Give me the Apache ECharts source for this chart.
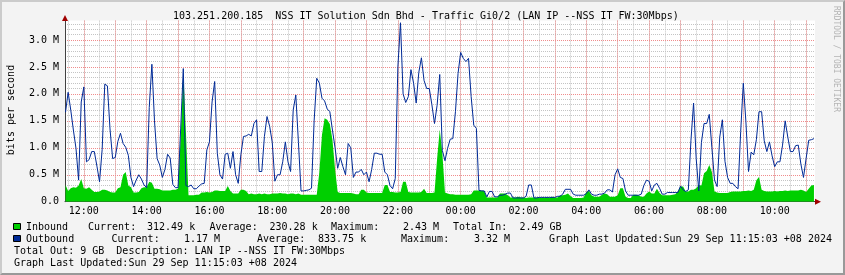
<!DOCTYPE html>
<html><head><meta charset="utf-8">
<script src="https://cdn.jsdelivr.net/npm/echarts@6/dist/echarts.min.js"></script>
<style>
html,body{margin:0;padding:0;background:#f3f3f3;}
#frame{position:absolute;left:0;top:0;width:845px;height:275px;box-sizing:border-box;background:#f3f3f3;border-top:2px solid #cbcbcb;border-left:2px solid #cbcbcb;border-right:2px solid #999;border-bottom:2px solid #999;}
#chart{position:absolute;left:0;top:0;width:845px;height:275px;}
</style></head><body>
<div id="frame"></div><div id="chart"></div>
<script>
// ---- data ----
const title = '103.251.200.185  NSS IT Solution Sdn Bhd - Traffic Gi0/2 (LAN IP --NSS IT FW:30Mbps)';
const startMinute = -35;   // first sample 11:25 (minutes relative to 12:00)
const stepMinutes = 5;     // 5-minute samples
// Inbound (Mbit/s)
const inbound = [
0.31,0.20,0.25,0.27,0.26,0.30,0.42,0.25,0.24,0.27,
0.22,0.18,0.18,0.19,0.22,0.22,0.21,0.18,0.17,0.17,
0.25,0.27,0.50,0.55,0.30,0.27,0.17,0.17,0.18,0.25,
0.27,0.27,0.37,0.35,0.24,0.24,0.23,0.21,0.21,0.21,
0.21,0.22,0.22,0.24,1.20,2.43,1.30,0.12,0.12,0.12,
0.13,0.13,0.17,0.17,0.18,0.17,0.18,0.21,0.21,0.20,
0.20,0.20,0.29,0.20,0.15,0.15,0.15,0.22,0.22,0.20,
0.14,0.15,0.14,0.14,0.15,0.14,0.15,0.14,0.14,0.15,
0.15,0.15,0.16,0.15,0.15,0.14,0.15,0.15,0.14,0.15,
0.13,0.13,0.13,0.13,0.13,0.13,0.13,0.55,1.24,1.55,
1.52,1.44,1.15,0.60,0.18,0.16,0.16,0.16,0.16,0.16,
0.15,0.14,0.14,0.22,0.22,0.17,0.16,0.16,0.16,0.16,
0.16,0.16,0.31,0.31,0.18,0.18,0.17,0.17,0.18,0.37,
0.37,0.18,0.17,0.17,0.17,0.17,0.18,0.24,0.16,0.16,
0.16,0.17,0.80,1.34,0.90,0.17,0.15,0.14,0.14,0.13,
0.13,0.13,0.13,0.13,0.13,0.14,0.21,0.21,0.21,0.21,
0.20,0.08,0.08,0.08,0.08,0.08,0.15,0.15,0.15,0.12,
0.08,0.08,0.08,0.09,0.08,0.08,0.07,0.08,0.08,0.08,
0.08,0.08,0.08,0.08,0.08,0.08,0.09,0.08,0.08,0.12,
0.12,0.13,0.15,0.10,0.07,0.07,0.07,0.07,0.08,0.18,
0.20,0.12,0.09,0.09,0.09,0.13,0.15,0.14,0.09,0.09,
0.09,0.12,0.25,0.25,0.09,0.07,0.07,0.13,0.13,0.12,
0.09,0.09,0.15,0.19,0.15,0.15,0.24,0.16,0.12,0.12,
0.12,0.12,0.13,0.14,0.19,0.28,0.28,0.19,0.19,0.22,
0.22,0.25,0.31,0.30,0.53,0.57,0.68,0.55,0.19,0.17,
0.16,0.16,0.16,0.16,0.18,0.19,0.19,0.19,0.19,0.20,
0.20,0.21,0.20,0.22,0.40,0.46,0.22,0.20,0.19,0.19,
0.19,0.20,0.19,0.20,0.20,0.21,0.20,0.21,0.21,0.21,
0.21,0.22,0.21,0.18,0.24,0.30,0.31
];
// Outbound (Mbit/s)
const outbound = [
1.66,2.03,1.70,1.33,0.99,0.40,1.85,2.13,0.74,0.78,
0.93,0.93,0.66,0.37,0.97,2.18,2.15,1.35,0.80,0.82,
1.12,1.27,1.08,1.01,0.86,0.45,0.28,0.40,0.50,0.42,
0.31,0.26,1.75,2.55,1.50,0.80,0.68,0.45,0.60,0.88,
0.81,0.32,0.26,0.26,1.35,2.47,0.30,0.28,0.31,0.24,
0.24,0.29,0.33,0.34,0.96,1.11,1.85,2.23,0.90,0.50,
0.42,0.88,0.90,0.62,0.93,0.50,0.34,0.87,1.21,1.22,
1.25,1.22,1.45,1.52,0.56,0.56,1.21,1.58,1.40,1.10,
0.38,0.50,0.50,0.74,1.11,0.74,0.56,1.70,1.98,1.10,
0.20,0.20,0.21,0.22,0.25,1.50,2.29,2.20,1.92,1.87,
1.72,1.67,1.33,1.00,0.62,0.82,0.65,0.50,1.08,1.00,
0.45,0.55,0.55,0.60,0.50,0.55,0.37,0.60,0.90,0.90,
0.88,0.88,0.55,0.50,0.30,0.24,0.43,2.50,3.32,2.00,
1.84,1.95,2.45,2.20,1.83,2.40,2.67,2.25,2.10,2.10,
1.80,1.45,1.79,2.36,0.95,0.76,0.99,1.16,1.17,1.67,
2.38,2.77,2.66,2.60,2.66,1.95,1.42,1.36,0.21,0.20,
0.20,0.09,0.19,0.19,0.09,0.09,0.12,0.12,0.14,0.16,
0.16,0.07,0.07,0.07,0.07,0.07,0.10,0.31,0.31,0.07,
0.07,0.08,0.08,0.08,0.08,0.08,0.08,0.08,0.10,0.10,
0.14,0.23,0.23,0.23,0.14,0.12,0.12,0.12,0.12,0.15,
0.22,0.14,0.12,0.12,0.14,0.14,0.16,0.22,0.22,0.18,
0.50,0.61,0.45,0.43,0.20,0.12,0.12,0.12,0.12,0.12,
0.14,0.30,0.40,0.38,0.20,0.31,0.34,0.25,0.14,0.14,
0.17,0.17,0.17,0.17,0.17,0.29,0.22,0.19,0.22,1.14,
1.83,0.80,0.20,1.10,1.45,1.45,1.62,1.00,0.40,0.28,
1.20,1.52,0.75,0.45,0.34,0.34,0.28,0.24,1.30,2.20,
1.48,0.56,0.92,0.87,1.15,1.67,1.67,1.13,0.93,1.11,
0.85,0.65,0.74,0.74,1.05,1.50,1.20,0.93,0.93,1.04,
1.05,0.70,0.45,0.80,1.14,1.15,1.17
];
const legendInbound  = ['Inbound', 'Current:', '312.49 k', 'Average:', '230.28 k', 'Maximum:', '2.43 M', 'Total In:', '2.49 GB'];
const legendOutbound = ['Outbound', 'Current:', '1.17 M', 'Average:', '833.75 k', 'Maximum:', '3.32 M', 'Graph Last Updated:Sun 29 Sep 11:15:03 +08 2024'];
const footerLines = ['Total Out: 9 GB  Description: LAN IP --NSS IT FW:30Mbps', 'Graph Last Updated:Sun 29 Sep 11:15:03 +08 2024'];

// ---- build ----
const times = inbound.map((_, i) => startMinute + i * stepMinutes);
const inData = times.map((t, i) => [t, inbound[i]]);
const outData = times.map((t, i) => [t, outbound[i]]);

const FAM = '"DejaVu Sans Mono", monospace';
const FONT = '10px ' + FAM;
const GRAY = '#c4c4c4', RED = '#f08c8c';
const X_MIN = -36, X_MAX = 1397, GRID_X_MIN = -60, Y_MAX = 3.36;

function txt(s, x, y, extra) {
  return Object.assign({type: 'text', x: x, y: y, silent: true, z: 100,
    style: {text: s, font: FONT, fill: '#000', align: 'left', verticalAlign: 'middle'}}, extra || {});
}
const l1x = [26, 88, 147, 209.5, 269.5, 331, 403, 453, 519.5];
const l2x = [26, 111.5, 184, 257, 318, 401, 474, 549];
const graphics = [];
graphics.push(txt(title, 173, 16));
graphics.push({type: 'text', x: 11, y: 110, rotation: Math.PI / 2, silent: true, z: 100,
  style: {text: 'bits per second', font: FONT, fill: '#000', align: 'center', verticalAlign: 'middle'}});
graphics.push({type: 'text', x: 836.5, y: 59, rotation: -Math.PI / 2, silent: true, z: 100,
  style: {text: 'RRDTOOL / TOBI OETIKER', font: '8px ' + FAM, fill: '#b4b4b4', align: 'center', verticalAlign: 'middle'}});
legendInbound.forEach((s, k) => graphics.push(txt(s, l1x[k], 227)));
legendOutbound.forEach((s, k) => graphics.push(txt(s, l2x[k], 239)));
graphics.push(txt(footerLines[0], 14, 251));
graphics.push(txt(footerLines[1], 14, 263));
graphics.push({type: 'rect', silent: true, z: 100, shape: {x: 13.5, y: 223.5, width: 7, height: 6},
  style: {fill: '#00CF00', stroke: '#000', lineWidth: 1}});
graphics.push({type: 'rect', silent: true, z: 100, shape: {x: 13.5, y: 235.5, width: 7, height: 6},
  style: {fill: '#002A97', stroke: '#000', lineWidth: 1}});
graphics.push({type: 'polygon', silent: true, z: 100, shape: {points: [[62, 21], [68, 21], [65, 15]]}, style: {fill: '#a00000'}});
graphics.push({type: 'polygon', silent: true, z: 100, shape: {points: [[815, 198.7], [815, 204.7], [821, 201.7]]}, style: {fill: '#a00000'}});

function hourLabel(v) {
  if (v % 120 !== 0) return '';
  const h = ((720 + v) / 60) % 24;
  return (h < 10 ? '0' : '') + h + ':00';
}
const gridBase = {right: 30, top: 20.6, bottom: 73.3, outerBoundsMode: 'none', containLabel: false};
const option = {
  backgroundColor: 'transparent',
  animation: false,
  grid: [
    Object.assign({left: 65, show: true, backgroundColor: '#ffffff', borderWidth: 0}, gridBase),
    Object.assign({left: 65 - (X_MIN - GRID_X_MIN) * 750 / (X_MAX - X_MIN), show: false}, gridBase)
  ],
  xAxis: [
    {gridIndex: 0, type: 'value', min: X_MIN, max: X_MAX, position: 'bottom', z: 1.5,
      axisLine: {show: true, lineStyle: {color: '#404040', width: 1}}, axisTick: {show: false},
      axisLabel: {show: false}, splitLine: {show: false}},
    {gridIndex: 1, type: 'value', min: GRID_X_MIN, max: X_MAX, interval: 30, position: 'bottom', z: 0,
      axisLine: {show: false}, axisTick: {show: false}, axisLabel: {show: false},
      splitLine: {show: true, showMinLine: false, showMaxLine: false, lineStyle: {color: GRAY, width: 1, type: [1, 1]}}},
    {gridIndex: 1, type: 'value', min: GRID_X_MIN, max: X_MAX, interval: 60, position: 'bottom', z: 1,
      axisLine: {show: false}, axisTick: {show: false},
      axisLabel: {show: true, margin: 5, fontFamily: FAM, fontSize: 10, color: '#000', formatter: hourLabel},
      splitLine: {show: true, showMinLine: false, showMaxLine: false, lineStyle: {color: RED, width: 1, type: [1, 1]}}}
  ],
  yAxis: [
    {gridIndex: 0, type: 'value', min: 0, max: Y_MAX, interval: 0.1, position: 'left', z: 0,
      axisLine: {show: false}, axisTick: {show: false}, axisLabel: {show: false},
      splitLine: {show: true, showMinLine: false, showMaxLine: false, lineStyle: {color: GRAY, width: 1, type: [1, 1]}}},
    {gridIndex: 0, type: 'value', min: 0, max: Y_MAX, interval: 0.5, position: 'left', z: 1,
      axisLine: {show: true, lineStyle: {color: '#404040', width: 1}}, axisTick: {show: false},
      axisLabel: {show: true, margin: 6, showMaxLabel: false, fontFamily: FAM, fontSize: 10, color: '#000',
        formatter: v => v === 0 ? '0.0' : v.toFixed(1) + ' M'},
      splitLine: {show: true, showMinLine: false, showMaxLine: false, lineStyle: {color: RED, width: 1, type: [1, 1]}}},
    {gridIndex: 1, type: 'value', min: 0, max: Y_MAX, show: false}
  ],
  series: [
    {name: 'Inbound', type: 'line', xAxisIndex: 0, yAxisIndex: 0, data: inData, symbol: 'none',
      lineStyle: {width: 0, opacity: 0}, areaStyle: {color: '#00CF00', opacity: 1}, silent: true, z: 2},
    {name: 'Outbound', type: 'line', xAxisIndex: 0, yAxisIndex: 0, data: outData, symbol: 'none',
      lineStyle: {color: '#002A97', width: 1}, silent: true, z: 3}
  ],
  graphic: graphics
};
const chart = echarts.init(document.getElementById('chart'));
chart.setOption(option);
</script>
</body></html>
